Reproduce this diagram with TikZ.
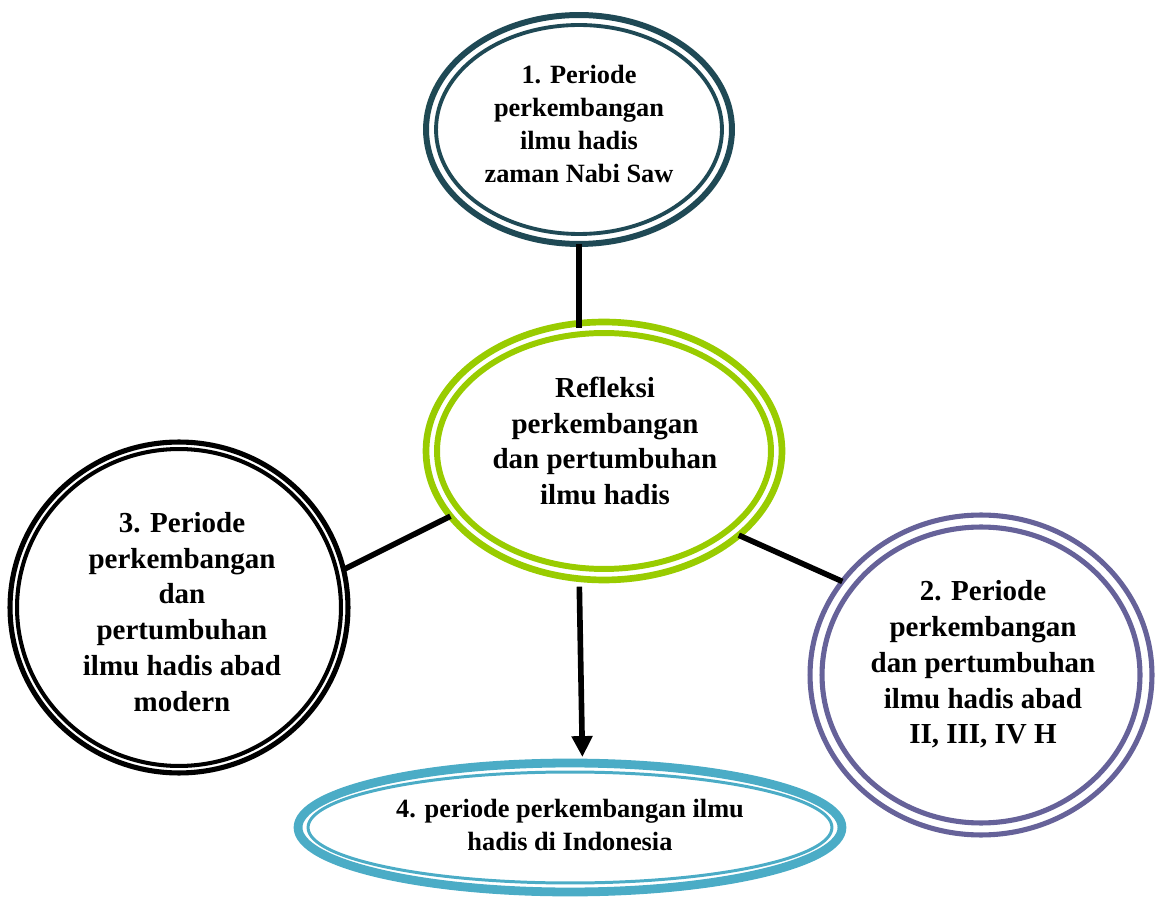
\documentclass[tikz,border=0pt]{standalone}
\usepackage{fontspec}
\setmainfont{Liberation Serif}
\usetikzlibrary{shapes.geometric,arrows.meta}

\definecolor{ringteal}{HTML}{1F4955}
\definecolor{ringlime}{HTML}{99CC00}
\definecolor{ringpurple}{HTML}{666299}
\definecolor{ringaqua}{HTML}{4BACC6}

\begin{document}
\begin{tikzpicture}[x=0.02cm, y=-0.02cm,
  ring/.style={ellipse, draw, inner sep=0pt, outer sep=0pt},
  biglabel/.style={align=center, inner sep=0pt, font=\bfseries\fontsize{16.5}{20.4}\selectfont},
  smalllabel/.style={align=center, inner sep=0pt, font=\bfseries\fontsize{15}{18.7}\selectfont},
  link/.style={line width=3.2pt, black},
]
\useasboundingbox (0,0) rectangle (1156,901);

% outer rings (thick line of each compound border)
\node[ring, draw=ringteal,   line width=3.4pt, minimum width=6.12cm,  minimum height=4.58cm] (e1) at (579,129.5) {};
\node[ring, draw=ringlime,   line width=3.8pt, minimum width=7.12cm,  minimum height=5.16cm] (e0) at (604,451) {};
\node[ring, draw=black,      line width=2.9pt, minimum width=6.76cm,  minimum height=6.62cm] (e3) at (179,607.5) {};
\node[ring, draw=ringpurple, line width=2.9pt, minimum width=6.84cm,  minimum height=6.4cm]  (e2) at (981,675) {};
\node[ring, draw=ringaqua,   line width=5.0pt, minimum width=10.88cm, minimum height=2.58cm] (e4) at (570,827.5) {};

% inner rings
\draw[ringteal,   line width=2.2pt] (e1.center) ellipse [x radius=2.86cm, y radius=2.09cm];
\draw[ringlime,   line width=3.4pt] (e0.center) ellipse [x radius=3.34cm, y radius=2.36cm];
\draw[black,      line width=2.3pt] (e3.center) ellipse [x radius=3.24cm, y radius=3.17cm];
\draw[ringpurple, line width=2.9pt] (e2.center) ellipse [x radius=3.18cm, y radius=2.96cm];
\draw[ringaqua,   line width=1.7pt] (e4.center) ellipse [x radius=5.24cm, y radius=1.11cm];

% texts
\node[smalllabel] (t1) at (579,124) {1. Periode\\perkembangan\\ilmu hadis\\zaman Nabi Saw};
\node[biglabel]   (t0) at (605,441) {Refleksi\\perkembangan\\dan pertumbuhan\\ilmu hadis};
\node[biglabel]   (t3) at (182,612) {3. Periode\\perkembangan\\dan\\pertumbuhan\\ilmu hadis abad\\modern};
\node[biglabel]   (t2) at (983,664.5) {2. Periode\\perkembangan\\dan pertumbuhan\\ilmu hadis abad\\II, III, IV H};
\node[smalllabel] (t4) at (570,825) {4. periode perkembangan ilmu\\hadis di Indonesia};

% connectors
\draw[link, shorten >=-0.12cm] (e1.south) -- (e1.south |- e0.north);
\draw[link] (e0.203.5) -- (e3.13.8);
\draw[link] (e0.328.3) -- (e2.146);
\draw[link, -{Triangle[width=0.4cm, length=0.42cm]}, shorten <=0.16cm, shorten >=0.12cm]
  (e0.259.2) -- (e4.79.5);
\end{tikzpicture}
\end{document}
